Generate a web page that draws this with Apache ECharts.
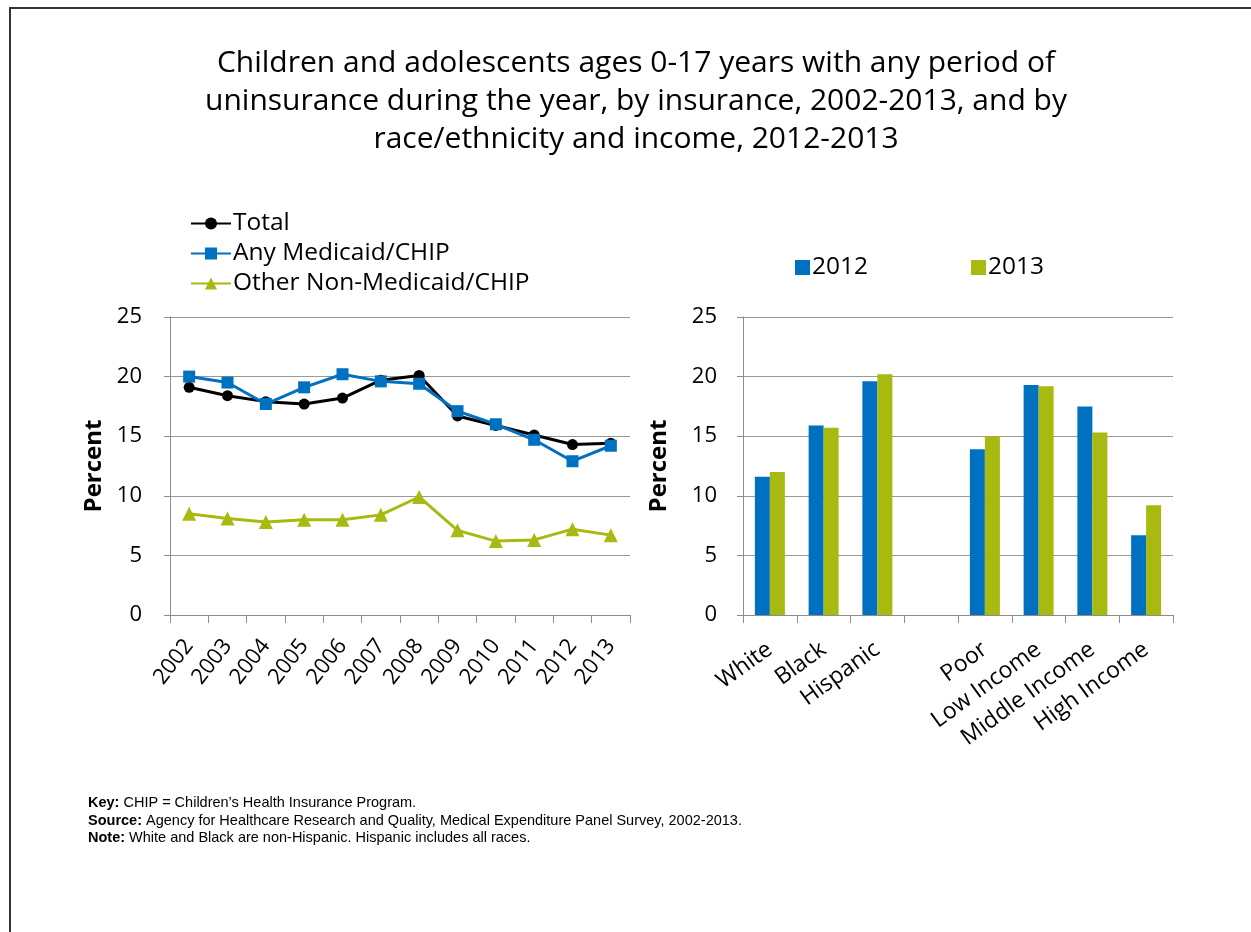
<!DOCTYPE html>
<html>
<head>
<meta charset="utf-8">
<script src="https://cdn.jsdelivr.net/npm/echarts@6/dist/echarts.min.js"></script>
<style>
  html, body { margin: 0; padding: 0; background: #fff; }
  #chart { width: 1251px; height: 932px; }
</style>
</head>
<body>
<div id="chart"></div>
<script>
// Uninsurance trend by coverage type, 2002-2013
const years = ['2002','2003','2004','2005','2006','2007','2008','2009','2010','2011','2012','2013'];
const totalPct    = [19.1, 18.4, 17.9, 17.7, 18.2, 19.7, 20.1, 16.7, 15.9, 15.1, 14.3, 14.4];
const medicaidPct = [20.0, 19.5, 17.7, 19.1, 20.2, 19.6, 19.4, 17.1, 16.0, 14.7, 12.9, 14.2];
const otherPct    = [8.5, 8.1, 7.8, 8.0, 8.0, 8.4, 9.9, 7.1, 6.2, 6.3, 7.2, 6.7];

// Race/ethnicity and income groups, 2012 vs 2013 (blank slot separates the two groups)
const groups = ['White', 'Black', 'Hispanic', '', 'Poor', 'Low Income', 'Middle Income', 'High Income'];
const pct2012 = [11.6, 15.9, 19.6, '-', 13.9, 19.3, 17.5, 6.7];
const pct2013 = [12.0, 15.7, 20.2, '-', 15.0, 19.2, 15.3, 9.2];

const yTicks = [0, 5, 10, 15, 20, 25];

const BLACK = '#000000';
const BLUE = '#0070C0';
const GREEN = '#A8B90F';
const GRID = '#999999';
const AXIS = '#8c8c8c';
const FONT = '"Open Sans", Lato, sans-serif';
const NOTE_FONT = '"Liberation Sans", Arial, sans-serif';

const chart = echarts.init(document.getElementById('chart'));

function valueAxis(gridIndex, nameGap, labelMargin) {
  return {
    type: 'value', gridIndex: gridIndex,
    min: yTicks[0], max: yTicks[yTicks.length - 1], interval: 5,
    name: 'Percent', nameLocation: 'middle', nameRotate: 90, nameGap: nameGap,
    nameTextStyle: { fontFamily: FONT, fontSize: 24, fontWeight: 'bold', color: '#000' },
    axisLine: { show: true, lineStyle: { color: AXIS, width: 1 } },
    axisTick: { show: true, length: 6, lineStyle: { color: AXIS } },
    axisLabel: { fontFamily: FONT, fontSize: 22, color: '#000', margin: labelMargin },
    splitLine: { show: true, lineStyle: { color: GRID, width: 1 } }
  };
}

function legendItem(name, left, top, w, h, icon) {
  const item = {
    data: [name], left: left, top: top, orient: 'horizontal',
    itemWidth: w, itemHeight: h, padding: 0, selectedMode: false,
    textStyle: { fontFamily: FONT, fontSize: 24.5, color: '#000', padding: [0, 0, 0, -3] }
  };
  if (icon) item.icon = icon;
  return item;
}

const option = {
  animation: false,
  backgroundColor: '#ffffff',
  grid: [
    { left: 170, top: 317, width: 460, height: 298 },
    { left: 743, top: 317, width: 430, height: 298 }
  ],
  legend: [
    legendItem('Total', 190, 211, 40, 15),
    legendItem('Any Medicaid/CHIP', 190, 241, 40, 15),
    legendItem('Other Non-Medicaid/CHIP', 190, 271, 40, 15),
    legendItem('2012', 795, 255, 15, 15, 'rect'),
    legendItem('2013', 971, 255, 15, 15, 'rect')
  ],
  xAxis: [
    {
      type: 'category', gridIndex: 0, data: years, boundaryGap: true,
      axisLine: { lineStyle: { color: AXIS } },
      axisTick: { show: true, length: 8, lineStyle: { color: AXIS } },
      axisLabel: { fontFamily: FONT, fontSize: 22, color: '#000', rotate: 52, margin: 27, interval: 0 }
    },
    {
      type: 'category', gridIndex: 1, data: groups, boundaryGap: true,
      axisLine: { lineStyle: { color: AXIS } },
      axisTick: { show: true, length: 8, lineStyle: { color: AXIS } },
      axisLabel: { fontFamily: FONT, fontSize: 23, color: '#000', rotate: 36, margin: 32, interval: 0 }
    }
  ],
  yAxis: [valueAxis(0, 64, 28), valueAxis(1, 72, 26)],
  series: [
    {
      name: 'Total', type: 'line', xAxisIndex: 0, yAxisIndex: 0, data: totalPct,
      color: BLACK, lineStyle: { width: 3, color: BLACK },
      symbol: 'circle', symbolSize: 11, itemStyle: { color: BLACK }, z: 3
    },
    {
      name: 'Any Medicaid/CHIP', type: 'line', xAxisIndex: 0, yAxisIndex: 0, data: medicaidPct,
      color: BLUE, lineStyle: { width: 3, color: BLUE },
      symbol: 'rect', symbolSize: 12, itemStyle: { color: BLUE }, z: 4
    },
    {
      name: 'Other Non-Medicaid/CHIP', type: 'line', xAxisIndex: 0, yAxisIndex: 0, data: otherPct,
      color: GREEN, lineStyle: { width: 3, color: GREEN },
      symbol: 'triangle', symbolSize: 14, itemStyle: { color: GREEN }, z: 2
    },
    {
      name: '2012', type: 'bar', xAxisIndex: 1, yAxisIndex: 1, data: pct2012,
      barWidth: 15, barGap: '0%', itemStyle: { color: BLUE }
    },
    {
      name: '2013', type: 'bar', xAxisIndex: 1, yAxisIndex: 1, data: pct2013,
      barWidth: 15, barGap: '0%', itemStyle: { color: GREEN }
    }
  ],
  graphic: [
    {
      type: 'rect', silent: true,
      shape: { x: 10, y: 8, width: 1400, height: 1100 },
      style: { fill: 'none', stroke: '#333333', lineWidth: 2 }
    },
    {
      type: 'text', silent: true, x: 636, y: 44,
      style: {
        text: 'Children and adolescents ages 0-17 years with any period of\nuninsurance during the year, by insurance, 2002-2013, and by\nrace/ethnicity and income, 2012-2013',
        font: '30px ' + FONT, fill: '#000', align: 'center', lineHeight: 38
      }
    },
    {
      type: 'text', silent: true, x: 88, y: 794.5,
      style: {
        text: '{b|Key:} CHIP = Children\u2019s Health Insurance Program.\n{b|Source:} Agency for Healthcare Research and Quality, Medical Expenditure Panel Survey, 2002-2013.\n{b|Note:} White and Black are non-Hispanic. Hispanic includes all races.',
        font: '14.5px ' + NOTE_FONT, fill: '#000', lineHeight: 17.5,
        rich: {
          b: { fontWeight: 'bold', fontFamily: NOTE_FONT, fontSize: 14.5 }
        }
      }
    }
  ]
};

chart.setOption(option);
</script>
</body>
</html>
